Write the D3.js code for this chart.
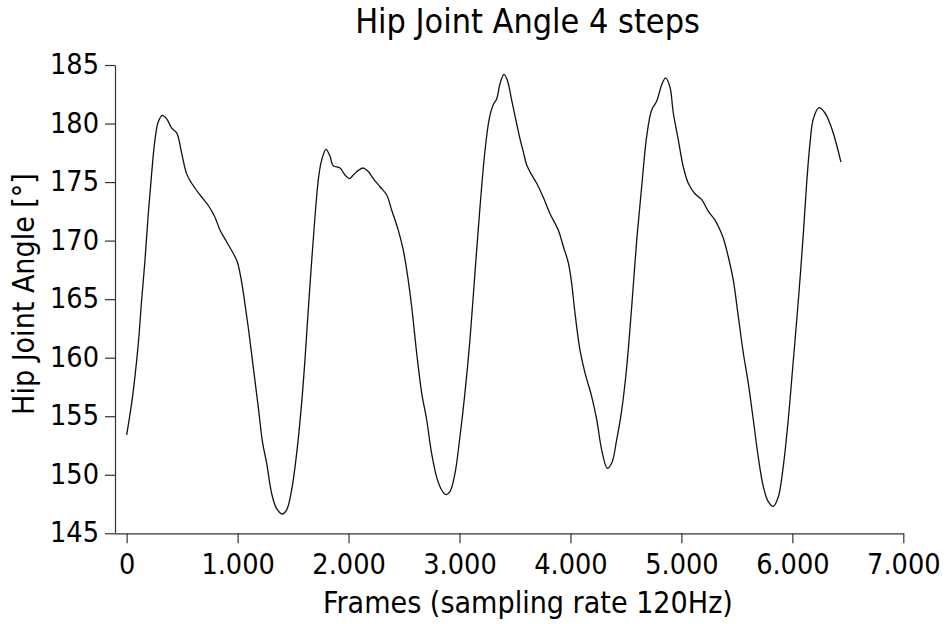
<!DOCTYPE html>
<html>
<head>
<meta charset="utf-8">
<script src="https://cdn.jsdelivr.net/npm/d3@7"></script>
<style>
  html, body { margin: 0; padding: 0; background: #fff; }
  svg { display: block; }
  text { font-family: "DejaVu Sans Condensed", "DejaVu Sans", sans-serif; font-stretch: condensed; fill: #000; }
</style>
</head>
<body>
<svg id="chart" width="946" height="624"></svg>
<script>
// ---- data ----
const titleText = "Hip Joint Angle 4 steps";
const xLabelText = "Frames (sampling rate 120Hz)";
const yLabelText = "Hip Joint Angle [°]";

const xTickValues = [0, 1000, 2000, 3000, 4000, 5000, 6000, 7000];
const xTickLabels = ["0", "1.000", "2.000", "3.000", "4.000", "5.000", "6.000", "7.000"];
const yTickValues = [145, 150, 155, 160, 165, 170, 175, 180, 185];

const frames = [
  0, 45, 75, 105, 135, 165, 195, 225, 255, 285, 321, 361, 406, 451, 496, 541, 586, 661, 736, 796,
  841, 901, 961, 997, 1028, 1057, 1096, 1141, 1186, 1226, 1262, 1307, 1352, 1403, 1442, 1487, 1532, 1577, 1607, 1637,
  1668, 1697, 1730, 1758, 1797, 1833, 1862, 1923, 1968, 2007, 2043, 2088, 2133, 2178, 2223, 2283, 2344, 2389, 2448, 2493,
  2529, 2569, 2614, 2659, 2704, 2749, 2794, 2839, 2878, 2914, 2959, 3004, 3049, 3094, 3139, 3185, 3230, 3268, 3304, 3335,
  3365, 3401, 3431, 3470, 3515, 3545, 3575, 3606, 3651, 3696, 3755, 3816, 3890, 3936, 3981, 4011, 4041, 4086, 4131, 4191,
  4237, 4282, 4332, 4372, 4417, 4462, 4507, 4552, 4597, 4642, 4687, 4732, 4777, 4822, 4858, 4897, 4927, 4972, 5017, 5062,
  5122, 5183, 5243, 5303, 5348, 5378, 5423, 5468, 5513, 5558, 5603, 5648, 5693, 5738, 5783, 5828, 5873, 5918, 5963, 6009,
  6054, 6099, 6129, 6159, 6189, 6240, 6294, 6339, 6384, 6438
];
const angles = [
  153.4, 156.1, 158.4, 161.2, 164.9, 168.3, 172.3, 175.7, 178.6, 180.15, 180.7, 180.4, 179.6, 179.2, 177.45, 175.7, 174.9, 173.9, 173.0, 172.0,
  170.9, 169.9, 168.9, 168.2, 166.9, 165.2, 162.6, 159.2, 155.8, 152.7, 151.0, 148.4, 147.1, 146.65, 147.0, 148.7, 151.8, 156.1, 159.8, 164.1,
  168.3, 172.0, 175.4, 176.9, 177.8, 177.2, 176.4, 176.2, 175.6, 175.3, 175.6, 176.0, 176.2, 175.9, 175.3, 174.6, 173.9, 172.6, 170.9, 169.2,
  167.2, 164.35, 160.4, 157.0, 154.7, 151.8, 149.8, 148.7, 148.3, 148.55, 150.1, 153.25, 157.0, 161.5, 167.2, 172.9, 177.7, 180.4, 181.6, 182.1,
  183.4, 184.2, 183.7, 182.0, 180.0, 178.7, 177.6, 176.45, 175.6, 174.9, 173.7, 172.3, 170.9, 169.5, 168.1, 166.35, 163.8, 160.65, 158.7, 156.7,
  154.7, 152.1, 150.55, 151.0, 153.0, 155.5, 159.2, 164.35, 170.0, 174.6, 178.9, 181.15, 181.9, 183.3, 183.9, 183.1, 180.9, 178.6, 176.3, 174.9,
  174.0, 173.5, 172.5, 171.75, 170.9, 170.2, 168.6, 166.6, 163.5, 160.4, 157.8, 154.7, 151.5, 149.0, 147.7, 147.3, 148.1, 150.7, 154.7, 159.8,
  164.9, 170.6, 174.9, 178.3, 180.4, 181.35, 180.9, 180.0, 178.7, 176.7
];

// ---- layout ----
const svg = d3.select("#chart");
const axisLeftX = 115, axisRightX = 903.3;
const plotTop = 65, plotBottom = 533.3;

const x = d3.scaleLinear().domain([-105, 7000]).range([axisLeftX, axisRightX]);
const y = d3.scaleLinear().domain([145, 185]).range([plotBottom, plotTop]);

// font fitting helper: choose font-size so text spans target width
function fitText(sel, target) {
  sel.attr("font-size", 20);
  const w = sel.node().getComputedTextLength();
  sel.attr("font-size", 20 * target / w);
}

// measure tick font size
const probe = svg.append("text").text("185");
fitText(probe, 49);
const tickFont = +probe.attr("font-size");
probe.remove();

// x axis
const xAxis = d3.axisBottom(x)
  .tickValues(xTickValues)
  .tickFormat((d, i) => xTickLabels[i])
  .tickSizeInner(10)
  .tickSizeOuter(0)
  .tickPadding(4);

const gx = svg.append("g")
  .attr("transform", `translate(0,${plotBottom})`)
  .call(xAxis);
gx.select(".domain").attr("stroke", "#333").attr("stroke-width", 1.2);
gx.selectAll(".tick line").attr("stroke", "#333").attr("stroke-width", 1.2);
gx.selectAll(".tick text")
  .attr("font-size", tickFont)
  .attr("dy", null)
  .attr("y", 574.5 - plotBottom)
  .attr("font-family", null)
  .style("fill", "#000");
gx.attr("font-family", null).attr("font-size", null);

// y axis
const yAxis = d3.axisLeft(y)
  .tickValues(yTickValues)
  .tickFormat(d3.format("d"))
  .tickSizeInner(10)
  .tickSizeOuter(0)
  .tickPadding(6);

const gy = svg.append("g")
  .attr("transform", `translate(${axisLeftX},0)`)
  .call(yAxis);
gy.select(".domain").attr("stroke", "#333").attr("stroke-width", 1.2);
gy.selectAll(".tick line").attr("stroke", "#333").attr("stroke-width", 1.2);
gy.selectAll(".tick text")
  .attr("font-size", tickFont)
  .attr("dy", null)
  .attr("y", 8.5)
  .style("fill", "#000");
gy.attr("font-family", null).attr("font-size", null);

// line
const pts = frames.map((f, i) => ({ f: f, v: angles[i] }));
const line = d3.line()
  .x(d => x(d.f))
  .y(d => y(d.v))
  .curve(d3.curveCatmullRom.alpha(0.5));

svg.append("path")
  .datum(pts)
  .attr("fill", "none")
  .attr("stroke", "#111")
  .attr("stroke-width", 1.3)
  .attr("stroke-linejoin", "round")
  .attr("d", line);

// title
const title = svg.append("text")
  .attr("x", 527.5)
  .attr("y", 33.3)
  .attr("text-anchor", "middle")
  .text(titleText);
fitText(title, 345);

// x label
const xl = svg.append("text")
  .attr("x", 528)
  .attr("y", 612.5)
  .attr("text-anchor", "middle")
  .text(xLabelText);
fitText(xl, 410);

// y label
const yl = svg.append("text")
  .attr("transform", "translate(33.5,294) rotate(-90)")
  .attr("text-anchor", "middle")
  .text(yLabelText);
fitText(yl, 242);
</script>
</body>
</html>
